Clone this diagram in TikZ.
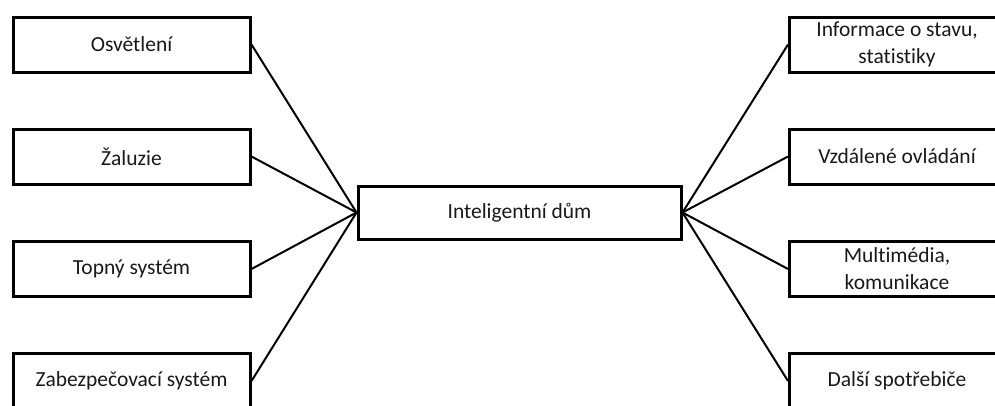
\documentclass[tikz,border=0pt]{standalone}
\usepackage{fontspec}
\setmainfont[Ligatures=NoCommon]{Carlito}
\tikzset{
  box/.style={draw=black, line width=3pt, fill=white, align=center,
    inner sep=0pt, font=\fontsize{21.5}{27}\selectfont, text=black!90},
  leftbox/.style={box, minimum width=237pt, minimum height=55pt},
  rightbox/.style={box, minimum width=215pt, minimum height=55pt},
  hubbox/.style={box, minimum width=323pt, minimum height=53pt},
  link/.style={draw=black, line width=2pt}
}
\begin{document}
\begin{tikzpicture}[x=1pt, y=-1pt]
  \clip (0,0) rectangle (995,405);
  \fill[white] (0,0) rectangle (995,405);

  % central node
  \node[hubbox] (hub) at (519.5,212.5) {Inteligentní dům};

  % subsystems on the left
  \node[leftbox] (l1) at (131.5,44.5) {Osvětlení};
  \node[leftbox] (l2) at (131.5,156.5) {Žaluzie};
  \node[leftbox] (l3) at (131.5,269) {Topný systém};
  \node[leftbox] (l4) at (131.5,381) {Zabezpečovací systém};

  % services on the right
  \node[rightbox] (r1) at (897,44.5) {Informace o stavu,\\statistiky};
  \node[rightbox] (r2) at (897,156.5) {Vzdálené ovládání};
  \node[rightbox] (r3) at (897,269) {Multimédia,\\komunikace};
  \node[rightbox] (r4) at (897,381) {Další spotřebiče};

  % connectors
  \foreach \n in {l1,l2,l3,l4} \draw[link] (\n.east) -- (hub.west);
  \foreach \n in {r1,r2,r3,r4} \draw[link] (hub.east) -- (\n.west);
\end{tikzpicture}
\end{document}
